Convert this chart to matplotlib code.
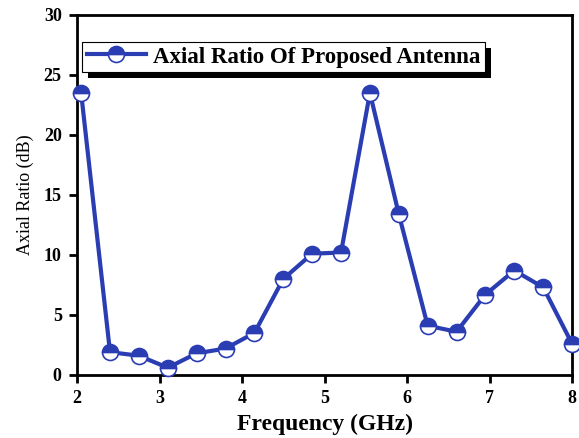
import matplotlib.pyplot as plt
from matplotlib.patches import Rectangle

# Axial ratio sweep of the proposed antenna
freq_ghz = [2.05, 2.4, 2.75, 3.1, 3.45, 3.8, 4.15, 4.5, 4.85, 5.2,
            5.55, 5.9, 6.25, 6.6, 6.95, 7.3, 7.65, 8.0]
axial_ratio_db = [23.5, 1.9, 1.6, 0.6, 1.8, 2.2, 3.5, 8.0, 10.1, 10.2,
                  23.5, 13.4, 4.1, 3.6, 6.7, 8.7, 7.3, 2.6]
x_ticks = [2, 3, 4, 5, 6, 7, 8]
y_ticks = [0, 5, 10, 15, 20, 25, 30]

blue = '#2b3db2'
plt.rcParams['font.family'] = ['Liberation Serif', 'DejaVu Serif']

fig = plt.figure(figsize=(5.79, 4.38), dpi=100)
ax = fig.add_axes([0.133, 0.144, 0.855, 0.822])

ax.plot(freq_ghz, axial_ratio_db, color=blue, lw=3, marker='o', ms=11.5,
        fillstyle='top', markerfacecolor=blue, markerfacecoloralt='white',
        markeredgecolor=blue, markeredgewidth=1.2, clip_on=False, zorder=3,
        label='Axial Ratio Of Proposed Antenna')

ax.set_xlim(2, 8)
ax.set_ylim(0, 30)
ax.set_xticks(x_ticks)
ax.set_yticks(y_ticks)
ax.tick_params(direction='out', length=6, width=2, labelsize=13, pad=5)
for lab in ax.get_xticklabels() + ax.get_yticklabels():
    lab.set_fontweight('bold')
for sp in ax.spines.values():
    sp.set_linewidth(2)

ax.set_xlabel('Frequency (GHz)', fontsize=17, fontweight='bold', labelpad=5)
ax.set_ylabel('Axial Ratio (dB)', fontsize=13, labelpad=7)

leg = ax.legend(loc='upper left', bbox_to_anchor=(0.01, 0.925),
                borderaxespad=0, fancybox=False, framealpha=1,
                edgecolor='black', prop={'size': 16.5, 'weight': 'bold'},
                handlelength=2.6, handletextpad=0.3, borderpad=0.2)
leg.get_frame().set_linewidth(0.8)

# solid black drop shadow behind the legend box
fig.canvas.draw()
bb = leg.get_window_extent()
shadow = Rectangle((bb.x0 + 6, bb.y0 - 6), bb.width, bb.height,
                   transform=None, facecolor='black', edgecolor='none',
                   zorder=4.9, clip_on=False)
ax.add_artist(shadow)

fig.savefig('out.png', dpi=100)
